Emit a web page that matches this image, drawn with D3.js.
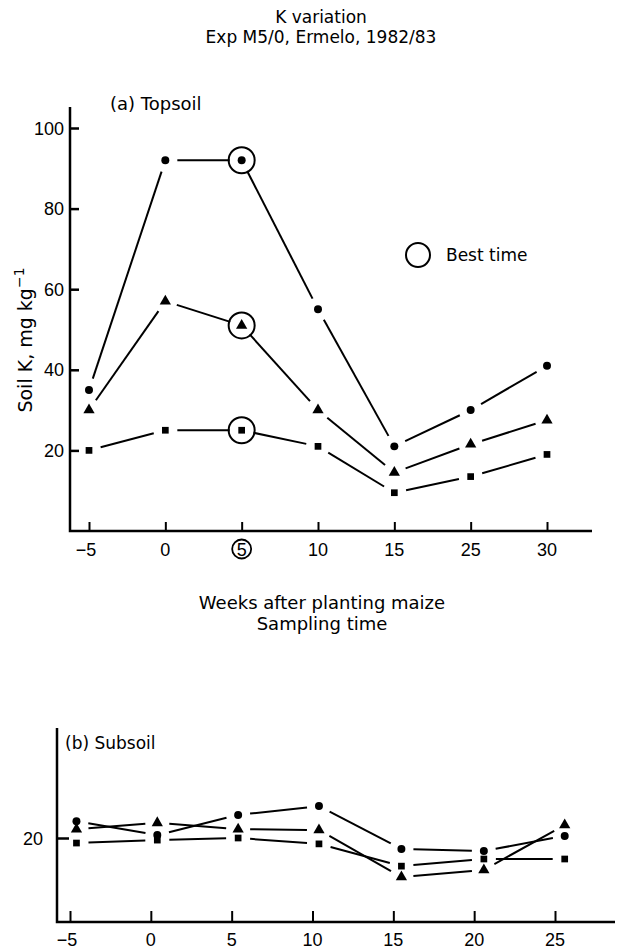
<!DOCTYPE html>
<html>
<head>
<meta charset="utf-8">
<script src="https://cdn.jsdelivr.net/npm/d3@7"></script>
<style>
  body { margin: 0; background: #fff; }
  svg { display: block; font-family: "DejaVu Sans", sans-serif; }
  .num { font-family: "Liberation Sans", Arial, sans-serif; }
</style>
</head>
<body>
<script>
// Data

const topWeeks = ['-5', '0', '5', '10', '15', '25', '30'];
const topCircle = [35, 92, 92, 55, 21, 30, 41];
const topTriangle = [30, 57, 51, 30, 14.5, 21.5, 27.5];
const topSquare = [20, 25, 25, 21, 9.5, 13.5, 19];
const bestWeek = '5';

const subTicks = [-5, 0, 5, 10, 15, 20, 25];
const subWeeks = [-4.6, 0.4, 5.4, 10.4, 15.5, 20.6, 25.6];
const subCircle = [24, 20.7, 25.5, 27.6, 17.4, 16.9, 20.5];
const subTriangle = [22.1, 23.6, 22.1, 21.9, 10.7, 12.4, 23.1];
const subSquare = [18.8, 19.5, 20, 18.6, 13.3, 15, 15];

const topYTicks = [20, 40, 60, 80, 100];
const subYTicks = [20];

// Constants

const width = 625;
const height = 949;
const gap = 12;

const svg = d3
	.select('body')
	.append('svg')
	.attr('width', width)
	.attr('height', height);

const fmt = (d) => String(d).replace('-', '\u2212');

// Title

svg
	.append('g')
	.attr('font-size', 17)
	.attr('text-anchor', 'middle')
	.selectAll('text')
	.data(['K variation', 'Exp M5/0, Ermelo, 1982/83'])
	.join('text')
	.attr('x', 321)
	.attr('y', (d, i) => 23 + i * 20)
	.text((d) => d);

// Helpers

const marker = (shape) =>
	shape === 'circle'
		? d3.symbol(d3.symbolCircle, 50)
		: shape === 'triangle'
		? d3.symbol(d3.symbolTriangle, 55)
		: d3.symbol(d3.symbolSquare, 45);

function drawSeries(g, pts, shape) {
	// segments with gaps at each end
	const segs = d3.pairs(pts).map(([a, b]) => {
		const dx = b[0] - a[0];
		const dy = b[1] - a[1];
		const len = Math.hypot(dx, dy);
		const ux = dx / len;
		const uy = dy / len;
		return [a[0] + ux * gap, a[1] + uy * gap, b[0] - ux * gap, b[1] - uy * gap];
	});
	g.append('g')
		.attr('stroke', '#000')
		.attr('stroke-width', 2)
		.selectAll('line')
		.data(segs)
		.join('line')
		.attr('x1', (d) => d[0])
		.attr('y1', (d) => d[1])
		.attr('x2', (d) => d[2])
		.attr('y2', (d) => d[3]);
	g.append('g')
		.selectAll('path')
		.data(pts)
		.join('path')
		.attr('transform', (d) => `translate(${d[0]},${d[1]})`)
		.attr('d', marker(shape)())
		.attr('fill', '#000');
}

// (a) Topsoil

const xTop = d3.scalePoint().domain(topWeeks).range([89, 547]);
const yTop = d3.scaleLinear().domain([0, 100]).range([531, 128]);

const gTop = svg.append('g');

gTop
	.append('g')
	.attr('transform', `translate(70,0)`)
	.call(d3.axisRight(yTop).tickValues(topYTicks).tickSize(9).tickFormat(''))
	.call((g) => g.select('.domain').remove())
	.call((g) => g.selectAll('.tick line').attr('stroke-width', 2.5));

gTop
	.append('g')
	.attr('class', 'num')
	.attr('font-size', 18)
	.attr('text-anchor', 'end')
	.selectAll('text')
	.data(topYTicks)
	.join('text')
	.attr('x', 64)
	.attr('y', (d) => yTop(d) + 6.5)
	.text((d) => d);

gTop
	.append('g')
	.attr('transform', `translate(0,531)`)
	.call(d3.axisTop(xTop).tickSize(9).tickFormat(''))
	.call((g) => g.select('.domain').remove())
	.call((g) => g.selectAll('.tick line').attr('stroke-width', 2));

gTop
	.append('g')
	.attr('class', 'num')
	.attr('font-size', 18)
	.attr('text-anchor', 'middle')
	.selectAll('text')
	.data(topWeeks)
	.join('text')
	.attr('x', (d) => xTop(d) - (d === '-5' ? 3 : 0))
	.attr('y', 556)
	.text((d) => fmt(d));

gTop
	.append('circle')
	.attr('cx', xTop(bestWeek))
	.attr('cy', 549)
	.attr('r', 9.5)
	.attr('fill', 'none')
	.attr('stroke', '#000')
	.attr('stroke-width', 1.8);

gTop
	.append('path')
	.attr('d', `M70,107V531H592`)
	.attr('fill', 'none')
	.attr('stroke', '#000')
	.attr('stroke-width', 2.5);

gTop
	.append('text')
	.attr('x', 110)
	.attr('y', 110)
	.attr('font-size', 18)
	.text('(a) Topsoil');

const ylab = gTop
	.append('text')
	.attr('transform', 'translate(32,340) rotate(-90)')
	.attr('text-anchor', 'middle')
	.attr('font-size', 19);
ylab.append('tspan').text('Soil K, mg kg');
ylab.append('tspan').attr('dy', -8).attr('font-size', 14).text('\u22121');

[
	[topCircle, 'circle'],
	[topTriangle, 'triangle'],
	[topSquare, 'square'],
].forEach(([vals, shape]) => {
	const pts = vals.map((v, i) => [xTop(topWeeks[i]), yTop(v)]);
	drawSeries(gTop.append('g'), pts, shape);
	const i = topWeeks.indexOf(bestWeek);
	gTop
		.append('circle')
		.attr('cx', pts[i][0])
		.attr('cy', pts[i][1])
		.attr('r', 13)
		.attr('fill', 'none')
		.attr('stroke', '#000')
		.attr('stroke-width', 2);
});

// legend
gTop
	.append('circle')
	.attr('cx', 418)
	.attr('cy', 255)
	.attr('r', 12)
	.attr('fill', 'none')
	.attr('stroke', '#000')
	.attr('stroke-width', 2);

gTop
	.append('text')
	.attr('x', 446)
	.attr('y', 261)
	.attr('font-size', 17)
	.text('Best time');

svg
	.append('g')
	.attr('font-size', 18)
	.attr('text-anchor', 'middle')
	.selectAll('text')
	.data(['Weeks after planting maize', 'Sampling time'])
	.join('text')
	.attr('x', 322)
	.attr('y', (d, i) => 609 + i * 21)
	.text((d) => d);

// (b) Subsoil

const xSub = d3.scaleLinear().domain([-5, 25]).range([70, 555]);
const ySub = d3.scaleLinear().domain([0, 20]).range([922, 838]);

const gSub = svg.append('g');

gSub
	.append('g')
	.attr('transform', `translate(57,0)`)
	.call(d3.axisRight(ySub).tickValues(subYTicks).tickSize(12).tickFormat(''))
	.call((g) => g.select('.domain').remove())
	.call((g) => g.selectAll('.tick line').attr('stroke-width', 2.5));

gSub
	.append('g')
	.attr('class', 'num')
	.attr('font-size', 18)
	.attr('text-anchor', 'end')
	.selectAll('text')
	.data(subYTicks)
	.join('text')
	.attr('x', 43)
	.attr('y', (d) => ySub(d) + 6.5)
	.text((d) => d);

gSub
	.append('g')
	.attr('transform', `translate(0,922)`)
	.call(d3.axisTop(xSub).tickValues(subTicks).tickSize(11).tickFormat(''))
	.call((g) => g.select('.domain').remove())
	.call((g) => g.selectAll('.tick line').attr('stroke-width', 2));

gSub
	.append('g')
	.attr('class', 'num')
	.attr('font-size', 18)
	.attr('text-anchor', 'middle')
	.selectAll('text')
	.data(subTicks)
	.join('text')
	.attr('x', (d) => xSub(d) - (d < 0 ? 3 : 0))
	.attr('y', 946)
	.text((d) => fmt(d));

gSub
	.append('path')
	.attr('d', `M57,728V922H615`)
	.attr('fill', 'none')
	.attr('stroke', '#000')
	.attr('stroke-width', 2.5);

gSub
	.append('text')
	.attr('x', 65)
	.attr('y', 749)
	.attr('font-size', 17)
	.text('(b) Subsoil');

[
	[subCircle, 'circle'],
	[subTriangle, 'triangle'],
	[subSquare, 'square'],
].forEach(([vals, shape]) => {
	const pts = vals.map((v, i) => [xSub(subWeeks[i]), ySub(v)]);
	drawSeries(gSub.append('g'), pts, shape);
});
</script>
</body>
</html>
